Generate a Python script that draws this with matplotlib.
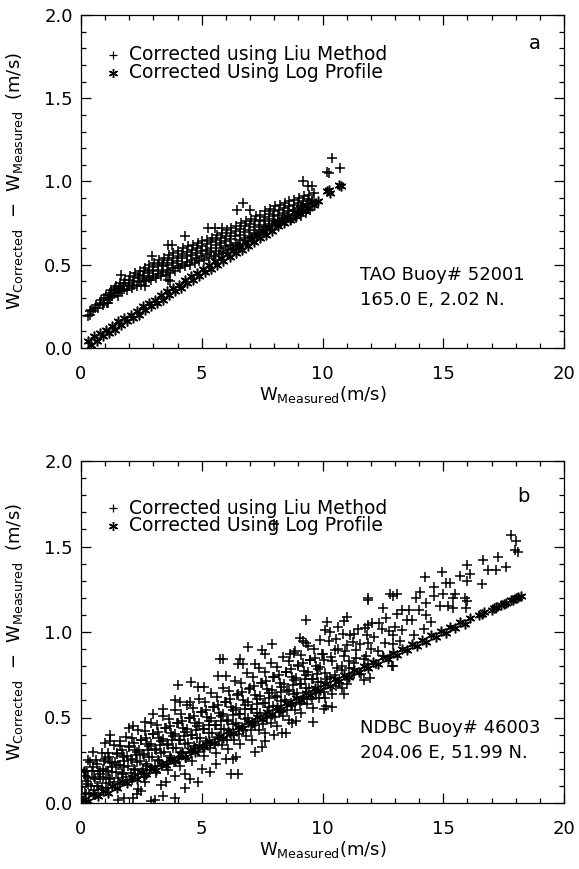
import matplotlib
matplotlib.use("Agg")
import matplotlib.pyplot as plt
from matplotlib.ticker import MultipleLocator

plt.rcParams['font.family'] = ['DejaVu Sans']
plt.rcParams['mathtext.fontset'] = 'dejavusans'

# ---------------- data ----------------
x_limits = (0, 20)
y_limits = (0.0, 2.0)
x_ticks = [0, 5, 10, 15, 20]
y_ticks = [0.0, 0.5, 1.0, 1.5, 2.0]
x_ticklabels = ["0", "5", "10", "15", "20"]
y_ticklabels = ["0.0", "0.5", "1.0", "1.5", "2.0"]

legend_labels = ["Corrected using Liu Method", "Corrected Using Log Profile"]
panel_letters = ["a", "b"]
station_text_a = ["TAO Buoy# 52001", "165.0 E, 2.02 N."]
station_text_b = ["NDBC Buoy# 46003", "204.06 E, 51.99 N."]

# Panel a : Log profile (asterisks)
log_a = [(0.30, .04), (0.40, .02), (0.55, .07), (0.65, .04), (0.80, .09), (0.90, .07),
         (1.05, .11), (1.15, .09), (1.30, .13), (1.40, .11), (1.55, .16), (1.65, .14),
         (1.80, .18), (1.90, .16), (2.05, .20), (2.15, .18), (2.30, .22), (2.40, .20),
         (2.55, .25), (2.65, .23), (2.80, .27), (2.90, .25), (3.05, .29), (3.15, .27),
         (3.30, .32), (3.40, .29), (3.55, .34), (3.65, .32), (3.80, .36), (3.90, .34),
         (4.05, .38), (4.15, .36), (4.30, .41), (4.40, .39), (4.55, .43), (4.65, .41),
         (4.80, .45), (4.90, .43), (5.05, .475), (5.15, .455), (5.30, .50), (5.40, .475),
         (5.55, .52), (5.65, .50), (5.80, .54), (5.90, .52), (6.05, .565), (6.15, .545),
         (6.30, .59), (6.40, .57), (6.55, .61), (6.65, .59), (6.80, .635), (6.90, .615),
         (7.05, .655), (7.15, .635), (7.30, .68), (7.40, .66), (7.55, .70), (7.65, .68),
         (7.80, .725), (7.90, .705), (8.05, .75), (8.15, .73), (8.30, .77), (8.40, .75),
         (8.55, .79), (8.65, .77), (8.80, .815), (8.90, .795), (9.05, .84), (9.15, .82),
         (9.30, .86), (9.40, .84), (9.55, .88), (9.65, .86), (9.80, .88),
         (10.20, .94), (10.25, .95), (10.30, .93), (10.70, .98), (10.75, .97)]

# Panel a : Liu method (plus signs)
liu_a = [(0.30, .19), (0.37, .22), (0.43, .23), (0.50, .22), (0.57, .24), (0.63, .26),
         (0.70, .24), (0.77, .27), (0.83, .29), (0.90, .26), (0.97, .30), (1.03, .32),
         (1.10, .29), (1.17, .32), (1.23, .35), (1.30, .31), (1.37, .35), (1.43, .37),
         (1.50, .33), (1.57, .36), (1.63, .39), (1.70, .34), (1.77, .38), (1.83, .41),
         (1.90, .35), (1.97, .39), (2.03, .43), (2.10, .36), (2.17, .40), (2.23, .45),
         (2.30, .37), (2.37, .42), (2.43, .46), (2.50, .38), (2.57, .43), (2.63, .48),
         (2.70, .40), (2.77, .45), (2.83, .50), (2.90, .41), (2.97, .46), (3.03, .51),
         (3.10, .42), (3.17, .47), (3.23, .53), (3.30, .43), (3.37, .49), (3.43, .54),
         (3.50, .44), (3.57, .50), (3.63, .56), (3.70, .45), (3.77, .51), (3.83, .57),
         (3.90, .46), (3.97, .52), (4.03, .58), (4.10, .48), (4.17, .54), (4.23, .60),
         (4.30, .49), (4.37, .55), (4.43, .61), (4.50, .50), (4.57, .56), (4.63, .62),
         (4.70, .51), (4.77, .57), (4.83, .63), (4.90, .52), (4.97, .58), (5.03, .64),
         (5.10, .53), (5.17, .59), (5.23, .65), (5.30, .54), (5.37, .60), (5.43, .66),
         (5.50, .555), (5.57, .62), (5.63, .68), (5.70, .565), (5.77, .63), (5.83, .69),
         (5.90, .575), (5.97, .64), (6.03, .71), (6.10, .59), (6.17, .655), (6.23, .72),
         (6.30, .60), (6.37, .67), (6.43, .735), (6.50, .61), (6.57, .68), (6.63, .75),
         (6.70, .625), (6.77, .695), (6.83, .765), (6.90, .64), (6.97, .71), (7.03, .775),
         (7.10, .66), (7.17, .725), (7.23, .79), (7.30, .68), (7.37, .74), (7.43, .80),
         (7.50, .70), (7.57, .76), (7.63, .82), (7.70, .71), (7.77, .775), (7.83, .835),
         (7.90, .73), (7.97, .79), (8.03, .85), (8.10, .74), (8.17, .80), (8.23, .86),
         (8.30, .75), (8.37, .81), (8.43, .87), (8.50, .76), (8.57, .82), (8.63, .88),
         (8.70, .77), (8.77, .83), (8.83, .89), (8.90, .78), (8.97, .84), (9.03, .90),
         (9.10, .79), (9.17, .85), (9.23, .91), (9.30, .81), (9.37, .865), (9.43, .92),
         (9.50, .83), (9.57, .88), (9.63, .93),
         (1.20, .30), (1.20, .33), (1.40, .33), (1.40, .36), (1.60, .345), (1.60, .375),
         (1.80, .356), (1.80, .392), (2.00, .37), (2.00, .41), (2.20, .38), (2.20, .425),
         (2.40, .395), (2.40, .44), (2.60, .41), (2.60, .46), (2.80, .42), (2.80, .47),
         (3.00, .433), (3.00, .485), (3.20, .445), (3.20, .50), (3.40, .457), (3.40, .513),
         (3.60, .47), (3.60, .527), (3.80, .48), (3.80, .54), (4.00, .494), (4.00, .554),
         (4.20, .506), (4.20, .566), (4.40, .517), (4.40, .577), (4.60, .529), (4.60, .589),
         (4.80, .54), (4.80, .60), (5.00, .551), (5.00, .611), (5.20, .563), (5.20, .623),
         (5.40, .574), (5.40, .634), (5.60, .585), (5.60, .648), (5.80, .598), (5.80, .66),
         (6.00, .61), (6.00, .673), (6.20, .62), (6.20, .69), (6.40, .633), (6.40, .703),
         (6.60, .646), (6.60, .716), (6.80, .66), (6.80, .73), (7.00, .673), (7.00, .743),
         (7.20, .69), (7.20, .76), (7.40, .71), (7.40, .77), (7.60, .727), (7.60, .787),
         (7.80, .744), (7.80, .804), (8.00, .76), (8.00, .82), (8.20, .77), (8.20, .83),
         (8.40, .78), (8.40, .84), (8.60, .79), (8.60, .85), (8.80, .80), (8.80, .86),
         (9.00, .81), (9.00, .87), (9.20, .82), (9.20, .88), (9.40, .835), (9.40, .895),
         (0.37, .20), (0.94, .27), (1.06, .27), (1.12, .27), (1.53, .31), (1.66, .44),
         (2.64, .37), (2.93, .55), (3.60, .62), (3.75, .62), (3.60, .41), (3.70, .40),
         (4.30, .675), (5.26, .72), (5.55, .72), (5.82, .72), (6.45, .83), (6.70, .87),
         (6.98, .83), (9.20, 1.00), (9.40, .97), (9.55, .97), (10.20, 1.06), (10.27, 1.05),
         (10.38, 1.14), (10.72, 1.08)]

# Panel b : Log profile (asterisks)
log_b = [(0.1, .02), (0.3, .01), (0.5, .05), (0.7, .04), (0.9, .07), (1.1, .06),
         (1.3, .10), (1.5, .09), (1.7, .13), (1.9, .115), (2.1, .15), (2.3, .14),
         (2.5, .18), (2.7, .17), (2.9, .205), (3.1, .195), (3.3, .23), (3.5, .22),
         (3.7, .26), (3.9, .245), (4.1, .285), (4.3, .27), (4.5, .31), (4.7, .30),
         (4.9, .335), (5.1, .325), (5.3, .363), (5.5, .353), (5.7, .39), (5.9, .38),
         (6.1, .42), (6.3, .41), (6.5, .447), (6.7, .437), (6.9, .475), (7.1, .465),
         (7.3, .503), (7.5, .493), (7.7, .53), (7.9, .52), (8.1, .56), (8.3, .55),
         (8.5, .587), (8.7, .577), (8.9, .615), (9.1, .605), (9.3, .643), (9.5, .633),
         (9.7, .671), (9.9, .661), (10.1, .698), (10.3, .687), (10.5, .724), (10.7, .713),
         (10.9, .75), (11.1, .738), (11.3, .775), (11.5, .764), (11.7, .80), (11.9, .79),
         (12.1, .826), (12.3, .815), (12.5, .852), (12.7, .841), (12.9, .878), (13.1, .866),
         (13.3, .903), (13.5, .892), (13.7, .929), (13.9, .918), (14.1, .954), (14.3, .943),
         (14.5, .98), (14.7, .969), (14.9, 1.006), (15.1, .995), (15.3, 1.032), (15.5, 1.021),
         (15.7, 1.058), (15.9, 1.047), (16.1, 1.084),
         (16.5, 1.10), (16.6, 1.105), (16.7, 1.115), (17.0, 1.13), (17.1, 1.14), (17.2, 1.145),
         (17.4, 1.16), (17.5, 1.165), (17.6, 1.17), (17.8, 1.185), (17.9, 1.19), (18.0, 1.20),
         (18.1, 1.205), (18.2, 1.21)]

# Panel b : Liu method (plus signs)
liu_b = [(0.10, .01), (0.18, .06), (0.05, .095), (0.22, .13), (0.13, .18),
         (0.35, .05), (0.43, .10), (0.30, .145), (0.47, .19), (0.38, .24),
         (0.60, .048), (0.68, .10), (0.55, .15), (0.72, .19), (0.63, .25),
         (0.85, .09), (0.93, .15), (0.80, .19), (0.97, .245), (0.88, .295),
         (1.10, .086), (1.18, .144), (1.05, .19), (1.22, .237), (1.13, .295),
         (1.35, .125), (1.43, .184), (1.30, .231), (1.47, .286), (1.38, .338),
         (1.60, .114), (1.68, .176), (1.55, .225), (1.72, .274), (1.63, .335),
         (1.85, .15), (1.93, .215), (1.80, .268), (1.97, .328), (1.88, .385),
         (2.10, .134), (2.18, .20), (2.05, .257), (2.22, .312), (2.13, .38),
         (2.35, .172), (2.43, .243), (2.30, .30), (2.47, .366), (2.38, .428),
         (2.60, .154), (2.68, .228), (2.55, .286), (2.72, .345), (2.63, .419),
         (2.85, .194), (2.93, .27), (2.80, .331), (2.97, .401), (2.88, .468),
         (3.10, .174), (3.18, .253), (3.05, .315), (3.22, .378), (3.13, .457),
         (3.35, .216), (3.43, .297), (3.30, .362), (3.47, .437), (3.38, .508),
         (3.60, .194), (3.68, .277), (3.55, .343), (3.72, .41), (3.63, .493),
         (3.85, .238), (3.93, .322), (3.80, .389), (3.97, .467), (3.88, .541),
         (4.10, .216), (4.18, .301), (4.05, .369), (4.22, .437), (4.13, .522),
         (4.35, .265), (4.43, .35), (4.30, .418), (4.47, .496), (4.38, .571),
         (4.60, .246), (4.68, .332), (4.55, .40), (4.72, .468), (4.63, .554),
         (4.85, .296), (4.93, .382), (4.80, .452), (4.97, .532), (4.88, .608),
         (5.10, .274), (5.18, .362), (5.05, .432), (5.22, .503), (5.13, .591),
         (5.35, .32), (5.43, .409), (5.30, .48), (5.47, .562), (5.38, .641),
         (5.60, .294), (5.68, .385), (5.55, .457), (5.72, .529), (5.63, .62),
         (5.85, .341), (5.93, .432), (5.80, .506), (5.97, .59), (5.88, .671),
         (6.10, .316), (6.18, .41), (6.05, .484), (6.22, .559), (6.13, .653),
         (6.35, .369), (6.43, .465), (6.30, .542), (6.47, .63), (6.38, .715),
         (6.60, .344), (6.68, .443), (6.55, .521), (6.72, .60), (6.63, .699),
         (6.85, .394), (6.93, .495), (6.80, .576), (6.97, .669), (6.88, .758),
         (7.10, .368), (7.18, .47), (7.05, .552), (7.22, .633), (7.13, .735),
         (7.35, .428), (7.43, .529), (7.30, .61), (7.47, .702), (7.38, .791),
         (7.60, .408), (7.68, .508), (7.55, .587), (7.72, .667), (7.63, .766),
         (7.85, .467), (7.93, .566), (7.80, .644), (7.97, .735), (7.88, .821),
         (8.10, .448), (8.18, .545), (8.05, .623), (8.22, .70), (8.13, .797),
         (8.35, .506), (8.43, .602), (8.30, .679), (8.47, .767), (8.38, .851),
         (8.60, .488), (8.68, .583), (8.55, .659), (8.72, .735), (8.63, .83),
         (8.85, .546), (8.93, .641), (8.80, .717), (8.97, .804), (8.88, .888),
         (9.10, .526), (9.18, .621), (9.05, .697), (9.22, .773), (9.13, .868),
         (9.35, .579), (9.43, .674), (9.30, .75), (9.47, .837), (9.38, .921),
         (9.60, .558), (9.68, .653), (9.55, .728), (9.72, .804), (9.63, .898),
         (9.85, .615), (9.93, .709), (9.80, .783), (9.97, .869), (9.88, .951),
         (10.10, .616), (10.20, .726), (10.05, .836), (10.25, .946),
         (10.40, .64), (10.50, .746), (10.35, .852), (10.55, .958),
         (10.70, .70), (10.80, .80), (10.65, .90), (10.85, .988),
         (11.00, .696), (11.10, .792), (10.95, .888), (11.15, .984),
         (11.30, .756), (11.40, .849), (11.25, .941), (11.45, 1.018),
         (11.60, .755), (11.70, .844), (11.55, .932), (11.75, 1.021),
         (11.90, .813), (12.00, .898), (11.85, .983), (12.05, 1.054),
         (12.20, .81), (12.30, .891), (12.15, .973), (12.35, 1.054),
         (12.50, .859), (12.60, .937), (12.45, 1.015), (12.65, 1.08),
         (12.80, .856), (12.90, .931), (12.75, 1.005),
         (0.22, .054), (0.28, .112), (0.18, .16), (0.72, .10), (0.78, .17), (0.68, .226),
         (1.22, .14), (1.28, .21), (1.18, .27), (1.72, .17), (1.78, .245), (1.68, .31),
         (2.22, .195), (2.28, .278), (2.18, .348), (2.72, .219), (2.78, .309), (2.68, .383),
         (3.22, .243), (3.28, .338), (3.18, .418), (3.72, .266), (3.78, .366), (3.68, .45),
         (4.22, .291), (4.28, .393), (4.18, .478), (4.72, .322), (4.78, .425), (4.68, .511),
         (5.22, .35), (5.28, .456), (5.18, .545), (5.72, .372), (5.78, .481), (5.68, .572),
         (6.22, .399), (6.28, .512), (6.18, .607), (6.72, .429), (6.78, .548), (6.68, .648),
         (7.22, .459), (7.28, .58), (7.18, .682), (7.72, .497), (7.78, .615), (7.68, .714),
         (8.22, .535), (8.28, .65), (8.18, .747), (8.72, .574), (8.78, .688), (8.68, .783),
         (9.22, .609), (9.28, .723), (9.18, .818), (9.72, .643), (9.78, .755), (9.68, .849),
         (0.80, .143), (0.90, .20), (1.30, .18), (1.40, .24), (1.80, .212), (1.90, .277),
         (2.30, .241), (2.40, .311), (2.80, .268), (2.90, .343), (3.30, .295), (3.40, .375),
         (3.80, .32), (3.90, .404), (4.30, .347), (4.40, .432), (4.80, .379), (4.90, .466),
         (5.30, .407), (5.40, .496), (5.80, .43), (5.90, .522), (6.30, .462), (6.40, .557),
         (6.80, .493), (6.90, .593), (7.30, .525), (7.40, .626), (7.80, .562), (7.90, .66),
         (8.30, .598), (8.40, .694), (8.80, .638), (8.90, .733), (9.30, .671), (9.40, .766),
         (9.80, .705), (9.90, .798), (10.30, .739), (10.40, .829), (10.80, .776), (10.90, .859),
         (11.30, .818), (11.40, .895), (11.80, .861), (11.90, .933),
         (0.55, .077), (0.60, .143), (0.50, .21), (1.05, .118), (1.10, .187), (1.00, .256),
         (1.55, .148), (1.60, .221), (1.50, .294), (2.05, .173), (2.10, .254), (2.00, .336),
         (2.55, .196), (2.60, .283), (2.50, .371), (3.05, .219), (3.10, .312), (3.00, .406),
         (3.55, .242), (3.60, .341), (3.50, .44), (4.05, .264), (4.10, .366), (4.00, .468),
         (4.55, .294), (4.60, .396), (4.50, .499), (5.05, .325), (5.10, .43), (5.00, .535),
         (5.55, .346), (5.60, .454), (5.50, .563), (6.05, .369), (6.10, .48), (6.00, .592),
         (6.55, .401), (6.60, .518), (6.50, .636), (7.05, .425), (7.10, .548), (7.00, .671),
         (7.55, .464), (7.60, .584), (7.50, .703), (8.05, .502), (8.10, .619), (8.00, .736),
         (8.55, .541), (8.60, .655), (8.50, .769), (9.05, .58), (9.10, .694), (9.00, .808),
         (9.55, .611), (9.60, .725), (9.50, .838), (10.05, .649), (10.10, .76), (10.00, .87),
         (10.55, .687), (10.60, .791), (10.50, .895), (11.05, .733), (11.10, .828), (11.00, .924),
         # lower outliers
         (1.53, .02), (1.80, .03), (2.15, .03), (2.36, .08), (3.05, .02), (3.40, .04),
         (3.88, .03), (4.30, .09), (3.30, .105), (3.50, .12), (2.64, .125), (3.90, .16),
         (4.30, .17), (4.85, .125), (5.33, .18), (6.20, .17), (6.50, .17), (6.00, .26),
         (6.30, .26), (7.20, .30), (6.40, .27), (8.31, .41), (8.72, .466), (9.62, .475),
         (10.05, .55), (10.15, .57), (10.40, .56), (10.80, .67), (10.90, .64), (11.70, .72),
         (11.95, .73), (12.86, .80), (8.50, .41), (8.90, .48), (2.50, .07), (2.30, .05),
         (2.90, .01), (4.50, .14), (5.00, .20), (5.60, .23), (7.60, .36), (8.00, .40),
         (7.50, .33), (12.93, .80),
         # upper outliers
         (6.90, .91), (5.74, .84), (5.90, .84), (6.60, .84), (4.00, .69), (4.57, .71),
         (4.85, .68), (5.10, .68), (5.67, .74), (6.00, .74), (6.50, .81), (6.70, .81),
         (7.20, .81), (3.88, .60), (4.10, .59), (4.50, .59), (2.64, .475), (2.15, .45),
         (1.19, .40), (0.50, .30), (0.15, .19), (0.25, .19), (1.20, .36), (1.60, .36),
         (7.90, .93), (7.50, .895), (7.60, .87), (8.65, .87), (8.80, .88), (9.30, 1.07),
         (10.20, 1.06), (10.10, 1.01), (10.90, 1.065), (11.00, 1.09), (9.20, .95),
         (9.07, .965), (9.30, .935), (10.30, 1.00), (10.65, 1.03), (11.30, .99),
         (11.90, 1.04), (3.00, .52), (2.00, .44), (3.40, .55), (1.00, .35), (0.30, .25),
         (8.00, 1.63), (11.90, 1.19), (11.90, 1.20), (12.80, 1.22), (12.93, 1.21),
         (13.10, 1.22), (12.50, 1.14), (13.30, 1.13), (13.60, 1.13), (14.00, 1.13),
         (13.87, 1.20), (14.04, 1.235), (14.24, 1.32), (14.60, 1.265), (14.93, 1.35),
         (15.10, 1.285), (15.30, 1.285), (15.50, 1.225), (15.00, 1.22), (15.90, 1.20),
         (16.00, 1.18), (15.95, 1.14), (15.20, 1.15), (15.40, 1.14), (14.86, 1.15),
         (14.60, 1.21), (14.30, 1.17), (15.40, 1.20), (15.97, 1.39), (16.10, 1.34),
         (15.70, 1.33), (16.00, 1.30), (16.60, 1.28), (16.66, 1.42), (16.87, 1.36),
         (17.20, 1.36), (17.28, 1.44), (17.60, 1.38), (17.80, 1.57), (18.00, 1.53),
         (17.97, 1.48), (18.10, 1.47), (13.70, 1.07), (13.00, 1.03), (13.30, 1.01),
         (12.90, .98), (13.50, 1.07), (14.30, 1.10), (14.50, 1.06), (13.10, 1.105),
         (13.20, .95), (13.80, .98), (14.20, 1.02)]

# ---------------- figure ----------------
fig = plt.figure(figsize=(5.79, 8.69), dpi=100)
axes_rects = [[81 / 579, 1 - 348 / 869, 483 / 579, 333 / 869],
              [81 / 579, 1 - 803 / 869, 483 / 579, 342 / 869]]
panels = [(liu_a, log_a, station_text_a, panel_letters[0]),
          (liu_b, log_b, station_text_b, panel_letters[1])]
legend_y = [(0.880, 0.827), (0.862, 0.811)]
letter_pos = [(0.940, 0.915), (0.916, 0.895)]
station_y = [(0.219, 0.144), (0.218, 0.145)]

star = (6, 2, 0)
FS = 13

for i, (liu, logp, stext, letter) in enumerate(panels):
    ax = fig.add_axes(axes_rects[i])
    lx, ly = zip(*liu)
    sx, sy = zip(*logp)
    ax.plot(sx, sy, linestyle='none', marker=star, ms=7.0, mew=1.1, color='k')
    ax.plot(lx, ly, linestyle='none', marker='+', ms=6.5, mew=1.1, color='k')

    ax.set_xlim(*x_limits)
    ax.set_ylim(*y_limits)
    ax.set_xticks(x_ticks)
    ax.set_xticklabels(x_ticklabels)
    ax.set_yticks(y_ticks)
    ax.set_yticklabels(y_ticklabels)
    ax.xaxis.set_minor_locator(MultipleLocator(1))
    ax.yaxis.set_minor_locator(MultipleLocator(0.1))
    ax.tick_params(which='both', direction='in', top=True, right=True,
                   labelsize=FS, width=0.9, color='k')
    ax.tick_params(which='major', length=7.5)
    ax.tick_params(which='minor', length=3.8)
    ax.tick_params(axis='x', which='major', pad=12)
    ax.tick_params(axis='y', which='major', pad=6)
    for sp in ax.spines.values():
        sp.set_linewidth(0.9)

    ax.set_xlabel(r'W$_{\rm Measured}$(m/s)', fontsize=FS, labelpad=1)
    ax.set_ylabel(r'W$_{\rm Corrected}$  $-$  W$_{\rm Measured}$  (m/s)', fontsize=FS)
    ax.yaxis.set_label_coords(-0.115, 0.5)

    # legend drawn by hand
    ax.plot([0.066], [legend_y[i][0]], transform=ax.transAxes, marker='+',
            ms=6, mew=0.9, color='k', clip_on=False)
    ax.plot([0.066], [legend_y[i][1]], transform=ax.transAxes, marker=star,
            ms=6.5, mew=1.0, color='k', clip_on=False)
    ax.text(0.099, legend_y[i][0], legend_labels[0], transform=ax.transAxes,
            fontsize=FS + 0.5, va='center', ha='left')
    ax.text(0.099, legend_y[i][1], legend_labels[1], transform=ax.transAxes,
            fontsize=FS + 0.5, va='center', ha='left')

    ax.text(letter_pos[i][0], letter_pos[i][1], letter, transform=ax.transAxes,
            fontsize=FS + 1, ha='center', va='center')
    ax.text(0.577, station_y[i][0], stext[0], transform=ax.transAxes,
            fontsize=FS, ha='left', va='center')
    ax.text(0.577, station_y[i][1], stext[1], transform=ax.transAxes,
            fontsize=FS, ha='left', va='center')

fig.savefig('out.png', dpi=100)
